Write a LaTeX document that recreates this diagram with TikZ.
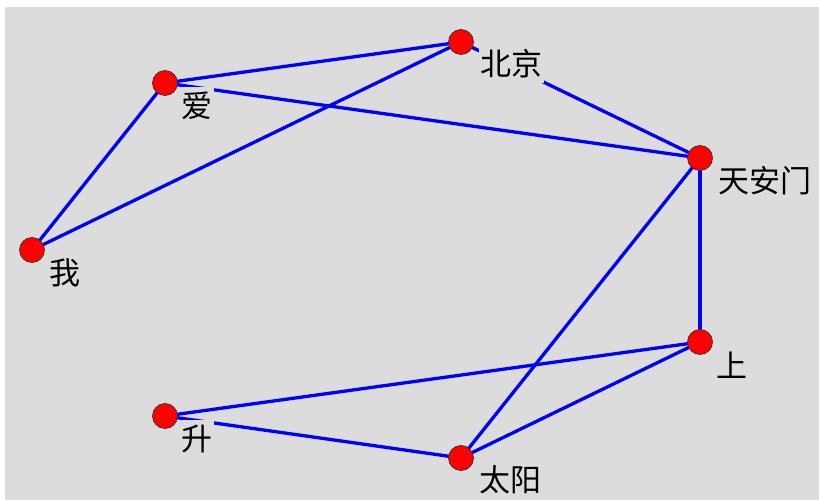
\documentclass[tikz,border=0pt]{standalone}
\usepackage{fontspec}
\newfontfamily\cjk{Noto Sans CJK SC}
\definecolor{bgc}{HTML}{DCDCDC}
\definecolor{edgec}{HTML}{0000FF}
\tikzset{
  vtx/.style={circle,fill=red,draw=black!80,line width=0.7pt,minimum size=25pt,inner sep=0pt},
  edge/.style={draw=edgec,line width=3.3pt},
  lbl/.style={fill=bgc,inner xsep=1.5pt,inner ysep=5pt,font=\cjk\fontsize{31}{31}\selectfont,text=black}
}
\begin{document}
\begin{tikzpicture}[x=1pt,y=-1pt]
\useasboundingbox (0,0) rectangle (819,500);
\fill[white] (0,0) rectangle (819,500);
\fill[bgc] (5,7) rectangle (819,500);
% positions
\coordinate (wo) at (32,250);
\coordinate (ai) at (165,83);
\coordinate (bj) at (461,42);
\coordinate (tam) at (700,158);
\coordinate (sh) at (700,342);
\coordinate (ty) at (461,458);
\coordinate (se) at (165,416);
% edges
\draw[edge] (wo) -- (ai);
\draw[edge] (wo) -- (bj);
\draw[edge] (ai) -- (bj);
\draw[edge] (ai) -- (tam);
\draw[edge] (bj) -- (tam);
\draw[edge] (tam) -- (sh);
\draw[edge] (tam) -- (ty);
\draw[edge] (sh) -- (se);
\draw[edge] (sh) -- (ty);
\draw[edge] (se) -- (ty);
% labels
\node[lbl] (wo-l) at (65,273) {我};
\node[lbl] (ai-l) at (197,106) {爱};
\node[lbl] (bj-l) at (511,64) {北京};
\node[lbl] (tam-l) at (765,181) {天安门};
\node[lbl] (sh-l) at (732,365) {上};
\node[lbl] (se-l) at (197,439) {升};
\node[lbl] (ty-l) at (510,480) {太阳};
% vertices
\node[vtx] (wo-v) at (wo) {};
\node[vtx] (ai-v) at (ai) {};
\node[vtx] (bj-v) at (bj) {};
\node[vtx] (tam-v) at (tam) {};
\node[vtx] (sh-v) at (sh) {};
\node[vtx] (ty-v) at (ty) {};
\node[vtx] (se-v) at (se) {};
\end{tikzpicture}
\end{document}
